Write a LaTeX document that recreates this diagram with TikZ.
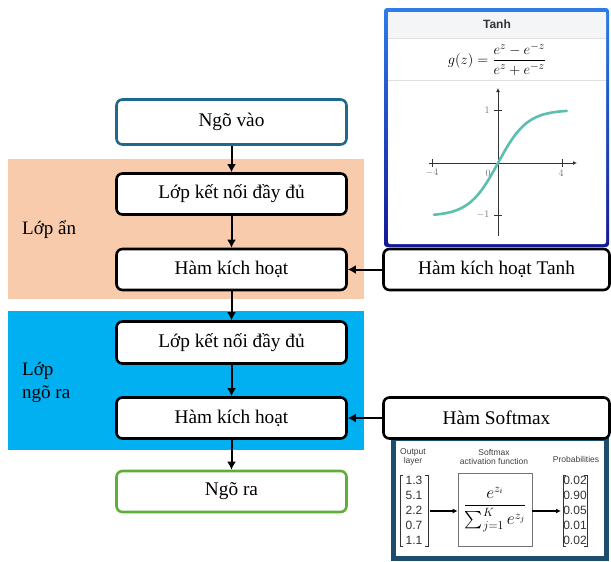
\documentclass[tikz,border=0pt]{standalone}
\usepackage{amsmath}
\usepackage{fontspec}
\setmainfont{Liberation Serif}
\newfontfamily\sansf{Liberation Sans}
\usetikzlibrary{arrows.meta}
\definecolor{bandorange}{HTML}{F8CBAD}
\definecolor{bandblue}{HTML}{00B0F0}
\definecolor{inblue}{HTML}{1F6A8C}
\definecolor{outgreen}{HTML}{5FAE3A}
\definecolor{tealcurve}{HTML}{5CBFAF}
\definecolor{smborder}{HTML}{1B4E6C}
\definecolor{hdrgray}{HTML}{F4F5F7}
\tikzset{
  blk/.style={draw=black, line width=2.6pt, rounded corners=6pt, fill=white,
    minimum width=230pt, minimum height=41pt, inner sep=0pt,
    font=\fontsize{19.3}{23}\selectfont},
  rblk/.style={blk, minimum width=226pt},
  arr/.style={line width=2pt, -{Latex[length=8pt,width=9pt]}},
  band/.style={font=\fontsize{19}{23}\selectfont, align=left, anchor=west, inner sep=0pt},
  ticklbl/.style={font=\fontsize{10}{11}\selectfont, text=black!55, inner sep=1pt},
  smtxt/.style={font=\sansf\fontsize{8.5}{9.5}\selectfont, text=black!75, align=center, inner sep=0pt},
  vec/.style={font=\sansf\fontsize{12}{15}\selectfont, align=center, inner sep=0pt, text=black!80},
  smarr/.style={line width=1.3pt, -{Latex[length=5pt,width=5pt]}},
}
\begin{document}
\begin{tikzpicture}[x=1pt,y=-1pt]
\useasboundingbox (0,0) rectangle (611,562);
% bands
\fill[bandorange] (8,159) rectangle (364,299);
\fill[bandblue] (8,311) rectangle (364,450);
\node[band] (lan) at (22,230) {Lớp ẩn};
\node[band] (lnr) at (22,382) {Lớp\\ngõ ra};

% tanh panel
\shade[top color={rgb,255:red,45;green,125;blue,232}, bottom color={rgb,255:red,20;green,24;blue,150}, rounded corners=3pt] (384,8) rectangle (609,247);
\fill[white, rounded corners=2pt] (388,12) rectangle (606,244);
\fill[hdrgray] (388,12) rectangle (606,38);
\draw[black!12, line width=0.6pt] (388,38) -- (606,38);
\draw[black!12, line width=0.6pt] (388,80) -- (606,80);
\node[font=\sansf\bfseries\fontsize{12}{14}\selectfont, text=black!80] (tanhttl) at (497,24) {Tanh};
\node[font=\fontsize{15.5}{18}\selectfont] (tanhf) at (497,59) {$g(z)=\dfrac{e^{z}-e^{-z}}{e^{z}+e^{-z}}$};
% axes
\coordinate (O) at (498,163);
\coordinate (xl) at (429,163);
\coordinate (xr) at (577,163);
\coordinate (yt) at (498,88);
\coordinate (yb) at (498,236);
\draw[line width=0.9pt, black!80, -{Latex[length=4pt,width=4pt]}] (xl) -- (xr);
\draw[line width=0.9pt, black!80, -{Latex[length=4pt,width=4pt]}] (yb) -- (yt);
\foreach \t in {432,562} \draw[line width=0.9pt, black!80] (\t,159) -- (\t,167);
\foreach \t in {110,215} \draw[line width=0.9pt, black!80] (494,\t) -- (502,\t);
\node[ticklbl] (tm4) at (432,173) {$-4$};
\node[ticklbl] (t4) at (561,173) {$4$};
\node[ticklbl] (t0) at (488,173) {$0$};
\node[ticklbl] (t1) at (487,110) {$1$};
\node[ticklbl] (tm1) at (483,215) {$-1$};
\draw[tealcurve, line width=2.6pt, line cap=round] plot[domain=-4:4.3, samples=80, smooth] ({498+16*\x},{163-53*tanh(0.55*\x)});

% softmax panel
\draw[smborder, line width=5pt, fill=white] (393.5,438.5) rectangle (606.5,558.5);
\node[smtxt] (ol) at (413,457) {Output\\layer};
\node[smtxt] (saf) at (494,457) {Softmax\\activation function};
\node[smtxt] (prob) at (576,459) {Probabilities};
\node[vec] (vl) at (414,510) {1.3\\5.1\\2.2\\0.7\\1.1};
\draw[line width=1pt, black!80] (403,475) -- (400,475) -- (400,546) -- (403,546);
\draw[line width=1pt, black!80] (425,475) -- (428,475) -- (428,546) -- (425,546);
\node[draw=black!55, line width=0.8pt, minimum width=74pt, minimum height=73pt, inner sep=0pt, font=\fontsize{17}{19}\selectfont] (sb) at (495,509.5) {$\dfrac{e^{z_i}}{\sum_{j=1}^{K} e^{z_j}}$};
\node[vec] (vr) at (575,510) {0.02\\0.90\\0.05\\0.01\\0.02};
\draw[line width=1pt, black!80] (566,475) -- (563,475) -- (563,546) -- (566,546);
\draw[line width=1pt, black!80] (584,475) -- (587,475) -- (587,546) -- (584,546);
\coordinate (vlr) at (430,511);
\coordinate (vrl) at (561,511);
\draw[smarr] (vlr) -- (sb.west |- vlr);
\draw[smarr] (sb.east |- vrl) -- (vrl);

% main chain
\node[blk, draw=inblue, minimum height=45pt] (in) at (231.5,122) {Ngõ vào};
\node[blk] (l1) at (231.5,194) {Lớp kết nối đầy đủ};
\node[blk] (h1) at (231.5,269.5) {Hàm kích hoạt};
\node[blk, minimum height=42pt] (l2) at (231.5,342.5) {Lớp kết nối đầy đủ};
\node[blk] (h2) at (231.5,418) {Hàm kích hoạt};
\node[blk, draw=outgreen] (out) at (231.5,491.5) {Ngõ ra};
\node[rblk] (tb) at (496.5,269.5) {Hàm kích hoạt Tanh};
\node[rblk] (sm) at (496.5,418) {Hàm Softmax};

\draw[arr] (in) -- (l1);
\draw[arr] (l1) -- (h1);
\draw[arr] (h1) -- (l2);
\draw[arr] (l2) -- (h2);
\draw[arr] (h2) -- (out);
\draw[arr] (tb) -- (h1);
\draw[arr] (sm) -- (h2);
\end{tikzpicture}
\end{document}
